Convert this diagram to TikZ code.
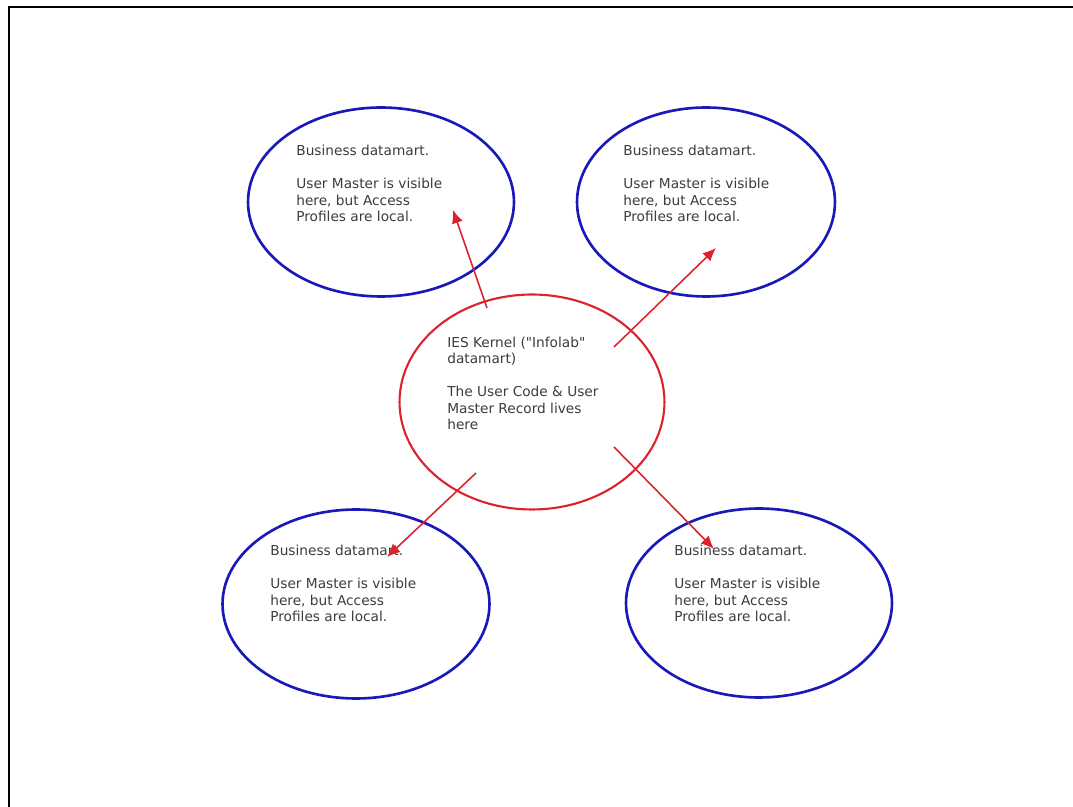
\documentclass[tikz,border=0pt]{standalone}
\usepackage{fontspec}
\setmainfont{DejaVu Sans}
\usepackage{xcolor}
\usetikzlibrary{shapes,shapes.geometric,arrows,arrows.meta,positioning,calc}

\definecolor{martblue}{RGB}{25,25,185}
\definecolor{kernelred}{RGB}{220,35,45}
\definecolor{notegray}{RGB}{60,60,60}

\begin{document}
\begin{tikzpicture}[
    x=0.02cm, y=-0.02cm,
    datamart/.style={ellipse, draw=martblue, line width=1.5pt, minimum width=5.32cm, minimum height=3.78cm, inner sep=0pt},
    kernel/.style={ellipse, draw=kernelred, line width=1.2pt, minimum width=5.3cm, minimum height=4.3cm, inner sep=0pt},
    note/.style={anchor=base west, align=left, inner sep=0pt, text=notegray, font=\fontsize{7.8}{9.4}\selectfont},
    arrow/.style={-{Latex[length=7.5pt,width=6.5pt]}, draw=kernelred, line width=0.9pt}
]

\useasboundingbox (0,0) rectangle (1073,807);

% frame of the page
\draw[line width=0.9pt] (9,807) -- (9,7) -- (1073,7);

\node[kernel] (kernel) at (532,402) {};
\node[datamart] (martNW) at (381,202) {};
\node[datamart, minimum width=5.16cm] (martNE) at (706,202) {};
\node[datamart, minimum width=5.34cm] (martSW) at (356,604) {};
\node[datamart] (martSE) at (759,603) {};

% texts, placed by the baseline of their last line
\node[note] (kernelText) at (447,430) {IES Kernel (\textquotedbl Infolab\textquotedbl\\datamart)\\[9.4pt]The User Code \& User\\Master Record lives\\here};
\node[note] (textNW) at (296,222) {Business datamart.\\[9.4pt]User Master is visible\\here, but Access\\Profiles are local.};
\node[note] (textNE) at (623,222) {Business datamart.\\[9.4pt]User Master is visible\\here, but Access\\Profiles are local.};
\node[note] (textSW) at (270,622) {Business datamart.\\[9.4pt]User Master is visible\\here, but Access\\Profiles are local.};
\node[note] (textSE) at (674,622) {Business datamart.\\[9.4pt]User Master is visible\\here, but Access\\Profiles are local.};

% arrow ends
\coordinate (fromNW) at (487,308);
\coordinate (toNW) at (453,210);
\coordinate (fromNE) at (614,347);
\coordinate (toNE) at (716,248);
\coordinate (fromSW) at (476,473);
\coordinate (toSW) at (387,557);
\coordinate (fromSE) at (614,447);
\coordinate (toSE) at (714,549);

\draw[arrow] (fromNW) -- (toNW);
\draw[arrow] (fromNE) -- (toNE);
\draw[arrow] (fromSW) -- (toSW);
\draw[arrow] (fromSE) -- (toSE);

\end{tikzpicture}
\end{document}
